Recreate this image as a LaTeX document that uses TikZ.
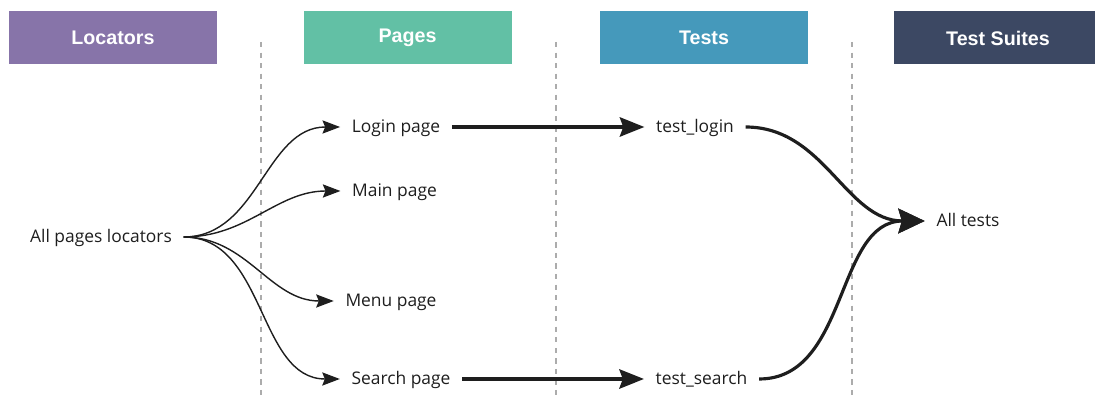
\documentclass[tikz,border=0pt]{standalone}
\usepackage{fontspec}
\setmainfont{Open Sans}
\newfontfamily\headfont{Liberation Sans}
\usetikzlibrary{arrows.meta}
\definecolor{locpurple}{HTML}{8774A9}
\definecolor{pagegreen}{HTML}{62C0A5}
\definecolor{testblue}{HTML}{4599BB}
\definecolor{suitenavy}{HTML}{3C4863}
\definecolor{inkgray}{HTML}{1E1E1E}

\begin{document}
\begin{tikzpicture}[font=\fontsize{9.9}{12}\selectfont, text=inkgray]
  \tikzstyle{head}=[minimum width=4.16cm,minimum height=1.06cm,inner sep=0pt,text=white,font=\headfont\bfseries\fontsize{11.2}{13}\selectfont]
  \tikzstyle{txt}=[inner xsep=6.5pt,inner ysep=2pt,text height=1.5ex,text depth=0.35ex]
  \tikzstyle{lane}=[gray!65,line width=0.6pt,dash pattern=on 3pt off 3pt]
  \tikzstyle{link}=[inkgray,line width=0.8pt,-{Stealth[length=10pt,width=7.5pt,inset=1.5pt]}]
  \tikzstyle{flow}=[inkgray,line width=1.8pt,-{Stealth[length=14pt,width=11pt,inset=2pt]}]
  \useasboundingbox (0,0) rectangle (21.9,8);
  \clip (0,0) rectangle (21.9,8);
  % column headers
  \node[head,fill=locpurple] (hloc) at (2.26,7.24) {Locators};
  \node[head,fill=pagegreen] (hpages) at (8.15,7.24) {Pages};
  \node[head,fill=testblue] (htests) at (14.08,7.24) {Tests};
  \node[head,fill=suitenavy] (hsuites) at (19.96,7.24) {Test Suites};
  % separators
  \draw[lane] (5.22,7.16) -- (5.22,0.1);
  \draw[lane] (11.12,7.16) -- (11.12,0.1);
  \draw[lane] (17.04,7.16) -- (17.04,0.1);
  % items
  \node[txt] (loc) at (2.02,3.26) {All pages locators};
  \node[txt] (login) at (7.92,5.46) {Login page};
  \node[txt] (main) at (7.89,4.18) {Main page};
  \node[txt] (menu) at (7.82,1.98) {Menu page};
  \node[txt] (search) at (8.02,0.42) {Search page};
  \node[txt] (tlogin) at (13.9,5.46) {test\_login};
  \node[txt] (tsearch) at (14.03,0.42) {test\_search};
  \node[txt] (all) at (19.36,3.58) {All tests};
  % locators -> pages
  \draw[link] (loc.east) to[out=0,in=180] (login.west);
  \draw[link] (loc.east) to[out=0,in=180] (main.west);
  \draw[link] (loc.east) to[out=0,in=180] (menu.west);
  \draw[link] (loc.east) to[out=0,in=180] (search.west);
  % pages -> tests -> suites
  \draw[flow] (login) -- (tlogin);
  \draw[flow] (search) -- (tsearch);
  \draw[flow,-{Stealth[length=15pt,width=14pt,inset=2pt]}] (tlogin.east) to[out=0,in=180] (all.west);
  \draw[flow,-{Stealth[length=15pt,width=14pt,inset=2pt]}] (tsearch.east) to[out=0,in=180] (all.west);
\end{tikzpicture}
\end{document}
